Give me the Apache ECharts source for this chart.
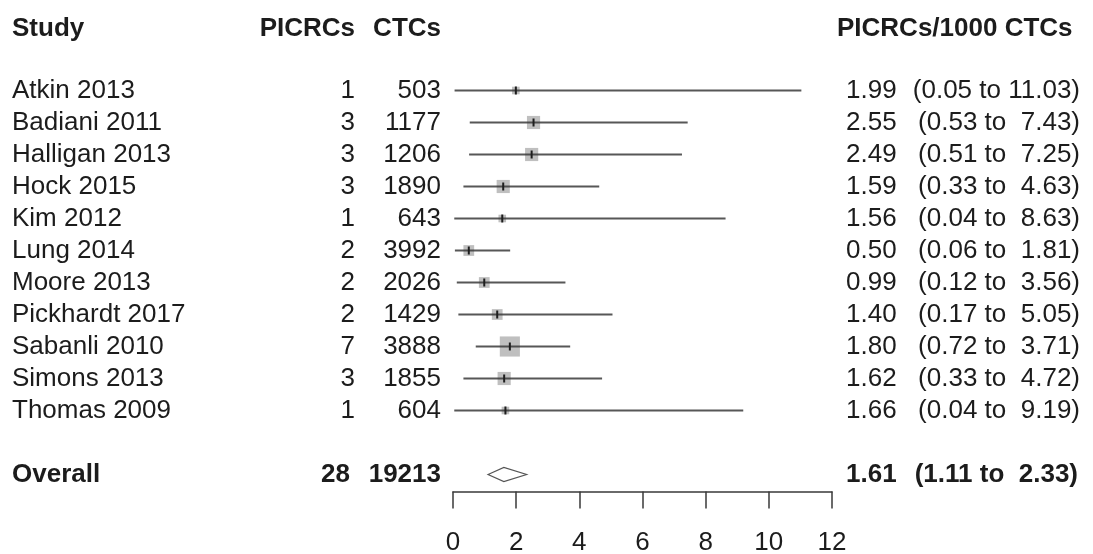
<!DOCTYPE html>
<html>
<head>
<meta charset="utf-8">
<script src="https://cdn.jsdelivr.net/npm/echarts@6/dist/echarts.min.js"></script>
<style>
  html, body { margin: 0; padding: 0; background: #fff; }
  #chart { width: 1093px; height: 554px; }
</style>
</head>
<body>
<div id="chart"></div>
<script>
// Per-study data: post-imaging colorectal cancers (PICRCs) per 1000 CT colonographies
const studies = ['Atkin 2013', 'Badiani 2011', 'Halligan 2013', 'Hock 2015', 'Kim 2012',
  'Lung 2014', 'Moore 2013', 'Pickhardt 2017', 'Sabanli 2010', 'Simons 2013', 'Thomas 2009'];
const picrcs = [1, 3, 3, 3, 1, 2, 2, 2, 7, 3, 1];
const ctcs = [503, 1177, 1206, 1890, 643, 3992, 2026, 1429, 3888, 1855, 604];
const rate = [1.99, 2.55, 2.49, 1.59, 1.56, 0.50, 0.99, 1.40, 1.80, 1.62, 1.66];
const lower = [0.05, 0.53, 0.51, 0.33, 0.04, 0.06, 0.12, 0.17, 0.72, 0.33, 0.04];
const upper = [11.03, 7.43, 7.25, 4.63, 8.63, 1.81, 3.56, 5.05, 3.71, 4.72, 9.19];

// Pooled estimate
const overallLabel = 'Overall';
const overallPicrcs = 28;
const overallCtcs = 19213;
const overallRate = 1.61;
const overallLower = 1.11;
const overallUpper = 2.33;

// Column headings
const headStudy = 'Study';
const headPicrcs = 'PICRCs';
const headCtcs = 'CTCs';
const headRate = 'PICRCs/1000 CTCs';

const FONT = '"Liberation Sans", Arial, Helvetica, sans-serif';
const TEXT = '#1c1c1c';
const FS = 26;

// Row index of the pooled line: one blank row after the last study
const overallRow = studies.length + 1;

const f2 = v => v.toFixed(2);
const ciText = (lo, hi) => '(' + f2(lo) + ' to ' + f2(hi).padStart(5, ' ') + ')';

// Columns of text (x is the anchor pixel, align is the anchor side)
const COL = {
  study: { x: 12, align: 'left' },
  picrcs: { x: 355, align: 'right' },
  ctcs: { x: 441, align: 'right' },
  est: { x: 846, align: 'left' },
  ci: { x: 1080, align: 'right' }
};

function textEl(x, y, str, align, bold) {
  return {
    type: 'text',
    x: x, y: y,
    style: {
      text: str,
      fill: TEXT,
      font: (bold ? 'bold ' : '') + FS + 'px ' + FONT,
      align: align,
      verticalAlign: 'middle'
    }
  };
}

const studyData = studies.map((s, i) => [lower[i], upper[i], rate[i], i, picrcs[i]]);
const tableData = studies.map((s, i) => [0, i]);

const chart = echarts.init(document.getElementById('chart'), null, { renderer: 'canvas' });

// Vertical scale: row i sits at 90.5 + 32*i px, the axis line at 491.5 px
const ROW0 = 90.5, ROWH = 32, AXIS_Y = 491.5;
const option = {
  animation: false,
  backgroundColor: '#ffffff',
  grid: { left: 453, right: 261, top: 0, bottom: 554 - AXIS_Y, containLabel: false, outerBoundsMode: 'none' },
  xAxis: {
    type: 'value',
    position: 'bottom',
    min: 0, max: 12, interval: 2,
    axisLine: { show: true, onZero: false, lineStyle: { color: '#3a3a3a', width: 1.5 } },
    axisTick: { show: true, length: 17, lineStyle: { color: '#3a3a3a', width: 1.5 } },
    axisLabel: { show: true, fontSize: FS, fontFamily: FONT, color: TEXT, margin: 38 },
    splitLine: { show: false }
  },
  yAxis: {
    type: 'value',
    inverse: true,
    min: -ROW0 / ROWH,
    max: (AXIS_Y - ROW0) / ROWH,
    show: false,
    splitLine: { show: false }
  },
  graphic: [
    textEl(COL.study.x, 29, headStudy, 'left', true),
    textEl(COL.picrcs.x, 29, headPicrcs, 'right', true),
    textEl(COL.ctcs.x, 29, headCtcs, 'right', true),
    textEl(837, 29, headRate, 'left', true)
  ],
  series: [
    {
      // confidence interval, weight square and point estimate per study
      type: 'custom',
      name: 'studies',
      clip: false,
      data: studyData,
      renderItem: function (params, api) {
        const row = api.value(3);
        const lo = api.coord([api.value(0), row]);
        const hi = api.coord([api.value(1), row]);
        const c = api.coord([api.value(2), row]);
        const side = 7.6 * Math.sqrt(api.value(4));
        return {
          type: 'group',
          children: [
            { type: 'rect', shape: { x: c[0] - side / 2, y: c[1] - side / 2, width: side, height: side },
              style: { fill: '#bfbfbf' } },
            { type: 'line', shape: { x1: lo[0], y1: lo[1], x2: hi[0], y2: hi[1] },
              style: { stroke: '#3a3a3a', lineWidth: 2, opacity: 0.85 } },
            { type: 'line', shape: { x1: c[0], y1: c[1] - 4, x2: c[0], y2: c[1] + 4 },
              style: { stroke: '#1e1e1e', lineWidth: 2 } }
          ]
        };
      }
    },
    {
      // pooled estimate diamond
      type: 'custom',
      name: 'overall',
      clip: false,
      data: [[overallLower, overallUpper, overallRate, overallRow]],
      renderItem: function (params, api) {
        const row = api.value(3);
        const lo = api.coord([api.value(0), row]);
        const hi = api.coord([api.value(1), row]);
        const c = api.coord([api.value(2), row]);
        const h = 7;
        return {
          type: 'polygon',
          shape: { points: [[lo[0], c[1]], [c[0], c[1] - h], [hi[0], c[1]], [c[0], c[1] + h]] },
          style: { fill: '#ffffff', stroke: '#555555', lineWidth: 1.2 }
        };
      }
    },
    {
      // text table of study rows
      type: 'custom',
      name: 'table',
      clip: false,
      silent: true,
      data: tableData,
      renderItem: function (params, api) {
        const i = params.dataIndex;
        const y = api.coord([0, api.value(1)])[1];
        return {
          type: 'group',
          children: [
            textEl(COL.study.x, y, studies[i], COL.study.align, false),
            textEl(COL.picrcs.x, y, String(picrcs[i]), COL.picrcs.align, false),
            textEl(COL.ctcs.x, y, String(ctcs[i]), COL.ctcs.align, false),
            textEl(COL.est.x, y, f2(rate[i]), COL.est.align, false),
            textEl(COL.ci.x, y, ciText(lower[i], upper[i]), COL.ci.align, false)
          ]
        };
      }
    },
    {
      // text of the pooled row
      type: 'custom',
      name: 'overallText',
      clip: false,
      silent: true,
      data: [[0, overallRow]],
      renderItem: function (params, api) {
        const y = api.coord([0, api.value(1)])[1];
        return {
          type: 'group',
          children: [
            textEl(COL.study.x, y, overallLabel, 'left', true),
            textEl(COL.picrcs.x - 5, y, String(overallPicrcs), 'right', true),
            textEl(COL.ctcs.x, y, String(overallCtcs), 'right', true),
            textEl(COL.est.x, y, f2(overallRate), 'left', true),
            textEl(1078, y, ciText(overallLower, overallUpper), 'right', true)
          ]
        };
      }
    }
  ]
};

chart.setOption(option);
</script>
</body>
</html>
